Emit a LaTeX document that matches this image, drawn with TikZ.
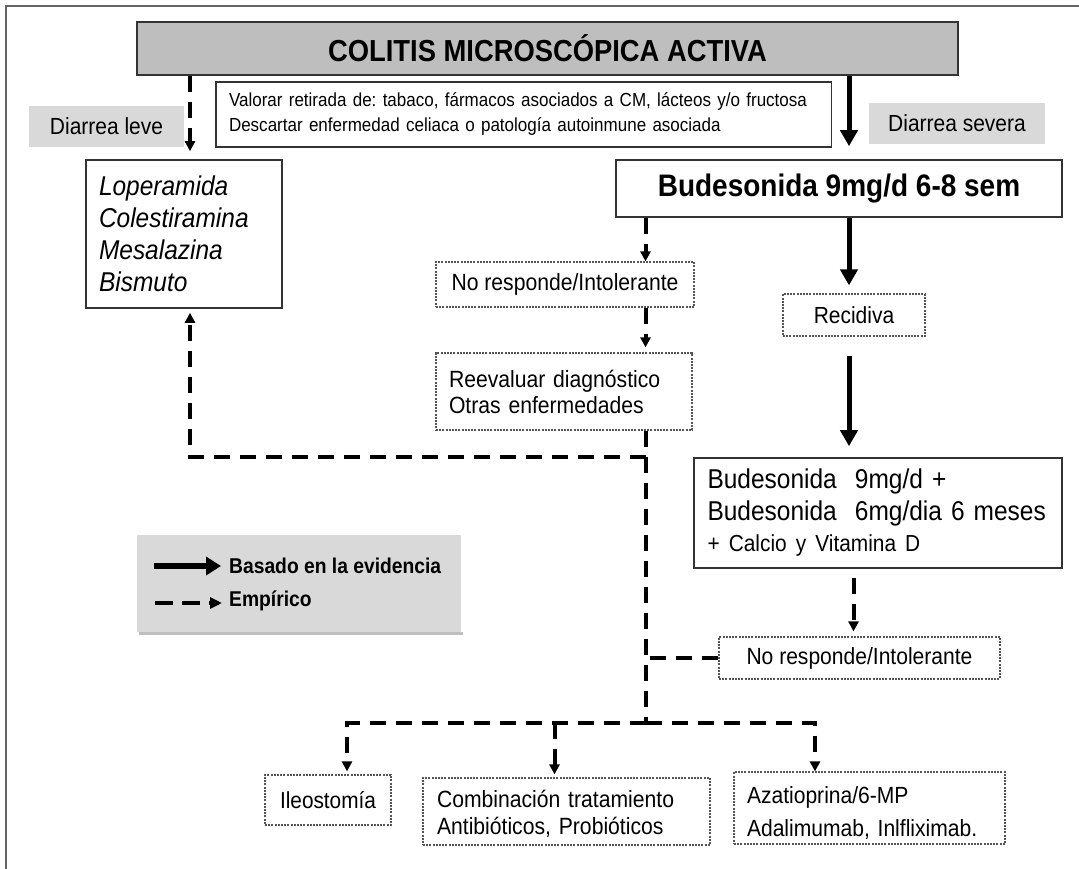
\documentclass[tikz,border=0pt]{standalone}
\usepackage{fontspec}
\setmainfont[FakeStretch=0.9]{Liberation Sans}
\usetikzlibrary{arrows.meta}
\newcommand\fsz[2]{\fontsize{#1pt}{#2pt}\selectfont}
\definecolor{boxline}{HTML}{333333}
\definecolor{dotline}{HTML}{555555}
\definecolor{titlefill}{HTML}{BEBEBE}
\definecolor{lblfill}{HTML}{D9D9D9}
\definecolor{framec}{HTML}{666666}
\frenchspacing
\begin{document}
\begin{tikzpicture}[x=1pt,y=-1pt,
 evid/.style={line width=5pt,-{Triangle[width=17pt,length=16pt]}},
 empa/.style={line width=4pt,dash pattern=on 16pt off 10pt,-{Triangle[width=10pt,length=10pt]}},
 empl/.style={line width=4pt,dash pattern=on 16pt off 10pt},
 sbox/.style={draw=boxline,line width=1.6pt,fill=white,inner sep=0pt},
 dbox/.style={draw=dotline,line width=1.2pt,dash pattern=on 2pt off 1.2pt,fill=white,inner sep=0pt},
 lbl/.style={fill=lblfill,inner sep=0pt,font=\fsz{23.3}{26}}]
\useasboundingbox (0,0) rectangle (1079,869);
\fill[white] (0,0) rectangle (1079,869);
\draw[framec,line width=1.5pt] (6,869) -- (6,6) -- (1079,6);

% nodes
\node[sbox,fill=titlefill,minimum width=821pt,minimum height=53pt,font=\bfseries\fsz{30.4}{34}] (title) at (547.5,48.5) {COLITIS MICROSCÓPICA ACTIVA};
\node[sbox,minimum width=615.5pt,minimum height=65pt,text width=589.5pt,align=left,font=\fsz{18.9}{25}] (val) at (523.75,114.5) {\mbox{Valorar retirada de: tabaco, fármacos asociados a CM, lácteos y/o fructosa}\\\mbox{Descartar enfermedad celiaca o patología autoinmune asociada}};
\node[lbl,minimum width=155pt,minimum height=41pt] (leve) at (106.5,126.5) {Diarrea leve};
\node[lbl,minimum width=176pt,minimum height=41pt] (severa) at (957,123.5) {Diarrea severa};
\node[sbox,minimum width=196pt,minimum height=148pt,text width=170pt,align=left,font=\itshape\fsz{27.2}{32}] (lbox) at (184,234) {Loperamida\\Colestiramina\\Mesalazina\\Bismuto};
\node[sbox,minimum width=446pt,minimum height=57pt,font=\bfseries\fsz{31.1}{34}] (bud) at (839,188.5) {Budesonida 9mg/d 6-8 sem};
\node[dbox,minimum width=258pt,minimum height=45pt,font=\fsz{23.5}{26}] (nr1) at (565,284.5) {No responde/Intolerante};
\node[dbox,minimum width=256pt,minimum height=77pt,text width=230pt,align=left,font=\fsz{23.5}{26}] (reev) at (564,391.5) {Reevaluar diagnóstico\\Otras enfermedades};
\node[dbox,minimum width=142pt,minimum height=42pt,font=\fsz{23.3}{26}] (rec) at (854,315) {Recidiva};
\node[sbox,minimum width=368pt,minimum height=110pt,text width=341pt,align=left,font=\fsz{27.2}{31.5}] (bud2) at (878,513) {Budesonida\ \ 9mg/d +\\Budesonida\ \ 6mg/dia 6 meses\\{\fsz{23.2}{31.5}+ Calcio y Vitamina D}};
\node[dbox,minimum width=281pt,minimum height=42pt,font=\fsz{23.4}{26}] (nr2) at (859.5,658) {No responde/Intolerante};
\node[dbox,minimum width=126pt,minimum height=50pt,font=\fsz{23.1}{26}] (ileo) at (328,800) {Ileostomía};
\node[dbox,minimum width=287pt,minimum height=67pt,text width=259pt,align=left,font=\fsz{23.5}{27}] (comb) at (566.5,811.5) {\rule{0pt}{22pt}Combinación tratamiento\\Antibióticos, Probióticos};
\node[dbox,minimum width=271pt,minimum height=72pt,text width=245pt,align=left,font=\fsz{23.4}{33}] (aza) at (869.5,808) {\rule{0pt}{27pt}Azatioprina/6-MP\\Adalimumab, Inlfliximab.};

% column coordinates
\coordinate (a) at (190,0);
\coordinate (b) at (645.5,0);
\coordinate (c) at (849,0);
\coordinate (d) at (853.5,0);
\coordinate (e) at (347,0);
\coordinate (f) at (554.5,0);
\coordinate (g) at (815,0);
\coordinate (k) at (645.5,457);
\coordinate (j) at (645.5,723);

% connectors
\draw[empa,shorten >=8pt] (title.south -| a) -- (lbox.north -| a);
\draw[evid,shorten >=13pt] (title.south -| c) -- (bud.north -| c);
\draw[empa] (bud.south -| b) -- (nr1.north -| b);
\draw[evid,shorten >=8pt] (bud.south -| c) -- (rec.north -| c);
\draw[empa,shorten >=5pt] (nr1.south -| b) -- (reev.north -| b);
\draw[evid,shorten <=19pt,shorten >=11pt] (rec.south -| c) -- (bud2.north -| c);
\draw[empa,shorten <=9pt,shorten >=5pt] (bud2.south -| d) -- (nr2.north -| d);
\draw[empl] (reev.south -| b) -- (j);
\draw[empa,shorten >=4pt] (k) -| (lbox.south -| a);
\draw[empl] (nr2.west) -- (nr2.west -| b);
\draw[empa,shorten >=3pt] (j) -| (ileo.north -| e);
\draw[empa] (j) -| (aza.north -| g);
\draw[empa,shorten >=3pt] (j -| f) -- (comb.north -| f);

% legend
\node[fill=lblfill,minimum width=324pt,minimum height=97pt,inner sep=0pt] (leg) at (299,583.5) {};
\fill[black!25] ([xshift=2pt]leg.south west) rectangle ([xshift=2pt,yshift=-3pt]leg.south east);
\coordinate (l1) at (154,566);
\coordinate (l2) at (221,566);
\draw[line width=6pt,-{Triangle[width=18pt,length=15pt]}] (l1) -- (l2);
\node[anchor=west,inner sep=0pt,font=\bfseries\fsz{21.4}{24}] (lt1) at (229,566) {Basado en la evidencia};
\coordinate (l3) at (155,603);
\coordinate (l4) at (222,603);
\draw[line width=4.5pt,dash pattern=on 18pt off 9pt,-{Triangle[width=11pt,length=12pt]}] (l3) -- (l4);
\node[anchor=west,inner sep=0pt,font=\bfseries\fsz{21.4}{24}] (lt2) at (229,601) {Empírico};
\end{tikzpicture}
\end{document}
